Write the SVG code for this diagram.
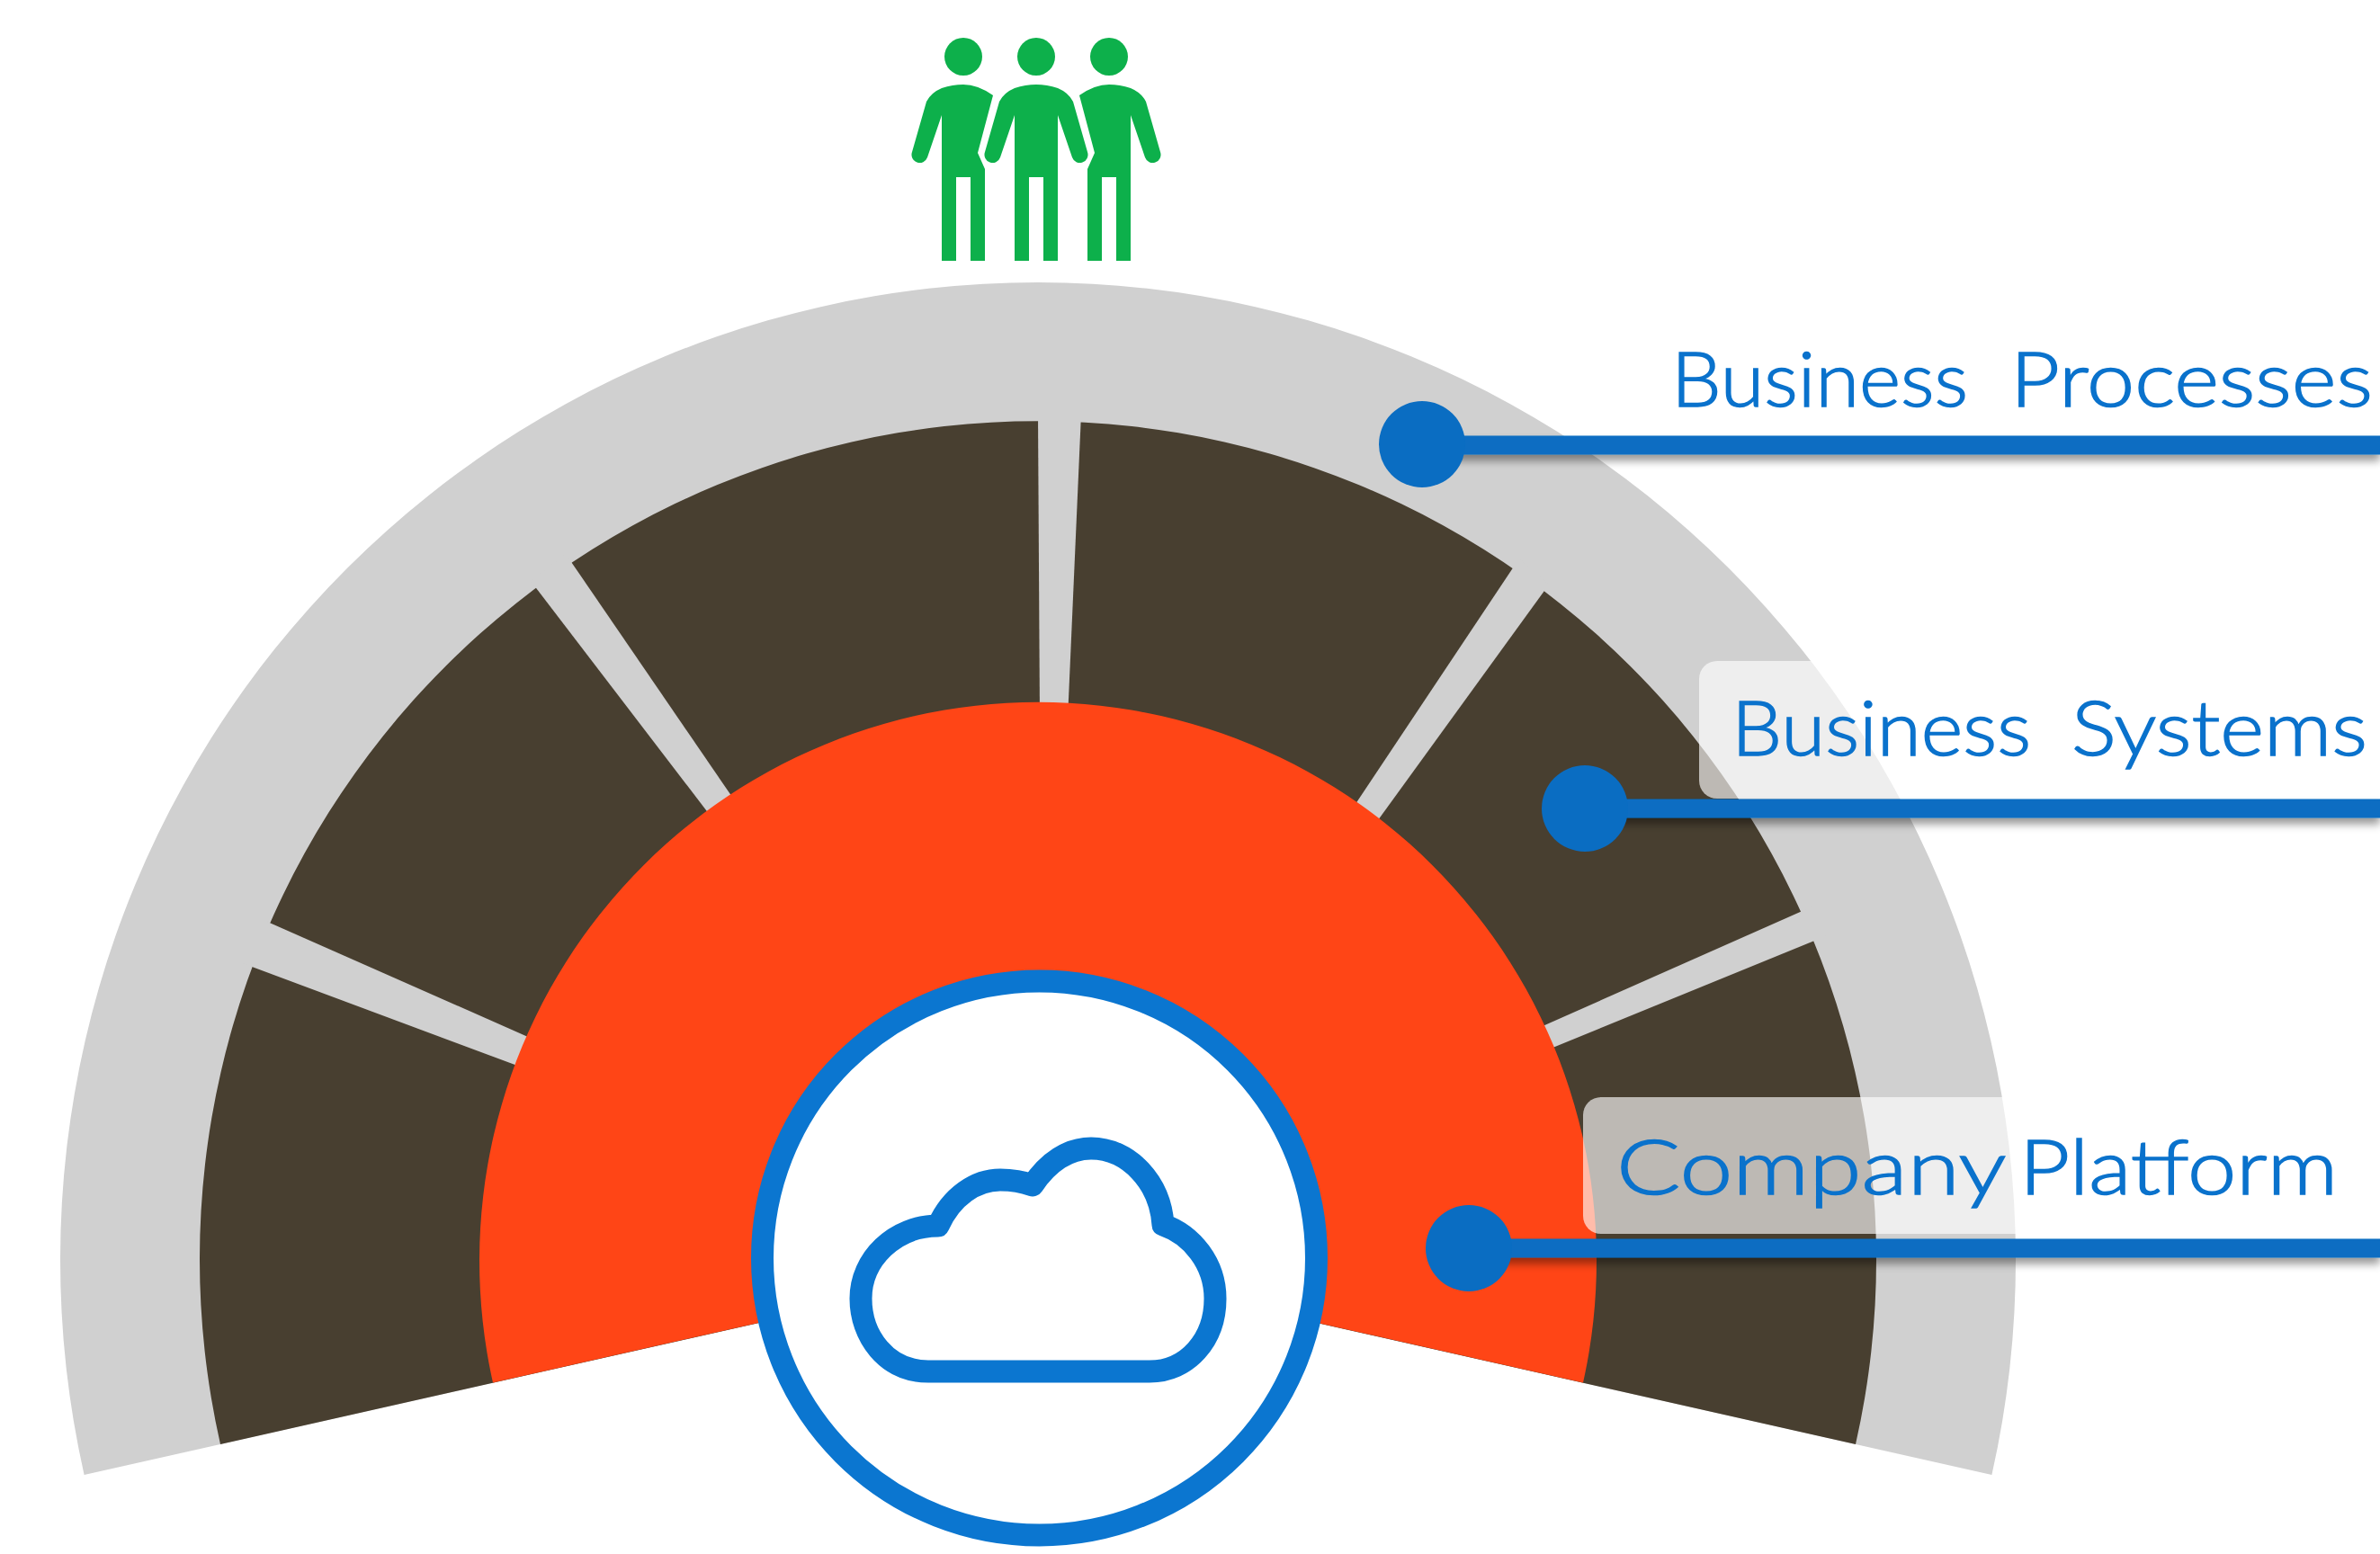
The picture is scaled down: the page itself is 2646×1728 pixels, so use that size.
<svg xmlns="http://www.w3.org/2000/svg" xmlns:xlink="http://www.w3.org/1999/xlink" width="2646" height="1728" viewBox="0 0 2646 1728">
<style>
.lbl{font-family:"Lato","Open Sans","Liberation Sans",sans-serif;font-weight:300;font-size:85px;fill:#0a72cc;stroke:#0a72cc;stroke-width:1.500px}
.panel{fill:#fff;fill-opacity:.64}
.gap{fill:#d0d0d0}
.conn{stroke:#0a6dc2;stroke-width:21;fill:none}
.dot{fill:#0a6dc2}
.man{fill:#0db04b}
</style>
<defs>
<filter id="sh" x="0" y="0" width="2646" height="1728" filterUnits="userSpaceOnUse"><feDropShadow dx="0" dy="7" stdDeviation="5" flood-color="#000" flood-opacity=".4"/></filter>
<g id="mid"><path d="M-24 290V128L-40 175a9 9 0 0 1-17-6L-41 113Q-36 103-24 98Q-12 94 0 94Q12 94 24 98Q36 103 41 113L57 169a9 9 0 0 1-17 6L24 128V290H8V197H-8V290Z"/><circle cy="63" r="21"/></g>
<g id="side"><path d="M-24 290V128L-40 175a9 9 0 0 1-17-6L-41 113Q-36 103-24 98Q-12 94 0 94Q16 94 33 106L16 170L24 188V290H8V197H-8V290Z"/><circle cy="63" r="21"/></g>
</defs>
<rect width="2646" height="1728" fill="#fff"/>
<g id="people" class="man">
<use xlink:href="#side" href="#side" x="1071"/>
<use xlink:href="#mid" href="#mid" x="1152"/>
<use xlink:href="#side" href="#side" transform="translate(1233 0) scale(-1 1)"/>
</g>
<g id="outer-ring"><path d="M1154 1401L93.600 1640A1087 1087 0 1 1 2214.400 1640Z" fill="#d0d0d0"/></g>
<g id="systems-ring">
<path d="M1154 1401L245 1606A932 932 0 1 1 2063 1606Z" fill="#483f30"/>
<polygon class="gap" points="1154,460 1202,460 1187,800 1156,800"/>
<polygon class="gap" points="590,646 629,616 820,895 795,914"/>
<polygon class="gap" points="286,1020 264,1069 586,1189 596,1157"/>
<polygon class="gap" points="1689,621 1722,650 1524,923 1499,906"/>
<polygon class="gap" points="2015,1008 2032,1040 1714,1170 1706,1145"/>
</g>
<g id="platform-ring"><path d="M1154 1401L548 1537.500A621 621 0 1 1 1760 1537.500Z" fill="#ff4516"/></g>
<g id="cloud-hub">
<circle cx="1155.500" cy="1399" r="308" fill="#fff" stroke="#0b76d0" stroke-width="25"/>
<path d="M1032 1525C985 1525 957 1485 957 1444C957 1400 995 1363 1043 1363C1058 1330 1085 1312 1112 1312C1125 1312 1137 1314 1148 1318C1165 1292 1188 1277 1213 1277C1255 1277 1290 1315 1293 1362C1325 1373 1351 1405 1351 1444C1351 1490 1320 1525 1278 1525Z" fill="none" stroke="#0b76d0" stroke-width="25" stroke-linejoin="round"/>
</g>
<g id="label-processes"><text class="lbl" y="452"><tspan x="1858" textLength="330" lengthAdjust="spacingAndGlyphs">Business</tspan> <tspan x="2235" textLength="403" lengthAdjust="spacingAndGlyphs">Processes</tspan></text></g>
<g id="label-systems">
<rect class="panel" x="1889" y="735" width="757" height="153" rx="20"/>
<text class="lbl" y="840"><tspan x="1925" textLength="333" lengthAdjust="spacingAndGlyphs">Business</tspan> <tspan x="2303" textLength="329" lengthAdjust="spacingAndGlyphs">Systems</tspan></text>
</g>
<g id="label-platform">
<rect class="panel" x="1760" y="1220" width="886" height="152" rx="20"/>
<text class="lbl" y="1328"><tspan x="1797" textLength="431" lengthAdjust="spacingAndGlyphs">Company</tspan> <tspan x="2245" textLength="354" lengthAdjust="spacingAndGlyphs">Platform</tspan></text>
</g>
<g id="connectors">
<path class="conn" filter="url(#sh)" d="M1581 495H2646"/>
<path class="conn" filter="url(#sh)" d="M1762 899H2646"/>
<path class="conn" filter="url(#sh)" d="M1633 1388H2646"/>
<circle class="dot" cx="1581" cy="494" r="48"/>
<circle class="dot" cx="1762" cy="899" r="48"/>
<circle class="dot" cx="1633" cy="1388" r="48"/>
</g>
</svg>
